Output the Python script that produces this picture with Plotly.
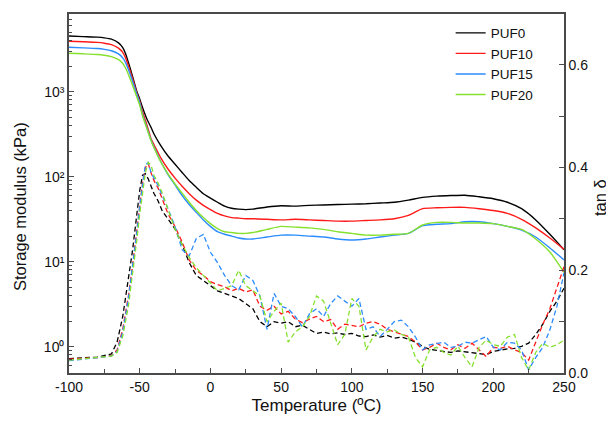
import plotly.graph_objects as go

# temperatura (C) para el modulo de almacenamiento
mod_t = [-100, -90, -80, -75, -70, -65, -62, -60, -57, -55,
         -52, -50, -48, -45, -42, -40, -35, -30, -25, -20,
         -15, -10, -5, 0, 5, 10, 15, 20, 25, 30,
         40, 50, 60, 70, 80, 90, 100, 110, 120, 130,
         140, 150, 160, 170, 180, 190, 200, 210, 220, 230,
         240, 250]

# modulo de almacenamiento (kPa)
puf0_e = [4520, 4450, 4380, 4300, 4150, 3750, 3300, 2800, 1950, 1500,
          1000, 820, 650, 480, 380, 320, 230, 175, 140, 112,
          90, 75, 63, 56, 50, 45, 42.5, 41.5, 41, 41.5,
          44, 45.5, 45, 46, 46.5, 47, 47.5, 48, 49, 50,
          53, 57, 59, 60, 60.5, 58, 55, 50, 42, 31,
          21, 13.8]
puf10_e = [3920, 3870, 3800, 3720, 3580, 3250, 2900, 2500, 1800, 1420,
           960, 770, 580, 410, 280, 240, 165, 123, 96, 77,
           63, 53, 46, 41, 37, 34.5, 33, 32.5, 32, 32,
           31.5, 31, 31.5, 31, 30.5, 30, 30, 30.5, 31, 32,
           35, 42, 43, 43.5, 43.5, 42, 40, 37, 31.5, 25,
           19, 14]
puf15_e = [3330, 3280, 3220, 3150, 3030, 2780, 2500, 2200, 1650, 1320,
           930, 740, 540, 380, 270, 225, 150, 106, 80, 60,
           47, 38, 31, 26, 22.5, 21, 20, 19, 18.5, 18.5,
           19.5, 20.5, 20.5, 20, 19.5, 18.5, 18, 18.5, 19.5, 20.5,
           21.5, 26.5, 27.5, 28, 29.5, 29.5, 28, 26, 23.5, 19.5,
           14.5, 10.5]
puf20_e = [2830, 2790, 2740, 2680, 2580, 2380, 2150, 1900, 1450, 1180,
           860, 690, 520, 370, 265, 220, 148, 108, 82, 64,
           50, 40, 33, 28, 24.5, 22.5, 22, 21.5, 21.5, 22,
           24, 26, 25.5, 25, 24, 22.5, 21.5, 20.5, 20.5, 21,
           21.5, 27, 29, 29, 28.5, 28.5, 28, 26, 24, 18.5,
           13, 7.5]

# temperatura (C) para tan delta
tan_t = [-100, -90, -80, -70, -66, -62, -58, -55, -52, -50,
         -48, -46, -44, -42, -40, -37, -34, -30, -25, -20,
         -15, -10, -5, 0, 5, 10, 15, 20, 25, 30,
         35, 40, 45, 50, 55, 60, 65, 70, 75, 80,
         85, 90, 95, 100, 105, 110, 115, 120, 125, 130,
         135, 140, 145, 150, 155, 160, 165, 170, 175, 180,
         185, 190, 195, 200, 205, 210, 215, 220, 225, 230,
         235, 240, 245, 250]

puf0_tan = [0.028, 0.030, 0.031, 0.037, 0.06, 0.11, 0.18, 0.24, 0.31, 0.355,
            0.385, 0.388, 0.378, 0.362, 0.35, 0.335, 0.315, 0.30, 0.28, 0.25,
            0.215, 0.19, 0.18, 0.17, 0.16, 0.155, 0.15, 0.145, 0.135, 0.125,
            0.10, 0.09, 0.10, 0.097, 0.10, 0.09, 0.093, 0.085, 0.077, 0.08,
            0.076, 0.078, 0.075, 0.077, 0.072, 0.071, 0.074, 0.07, 0.073, 0.068,
            0.07, 0.066, 0.06, 0.052, 0.046, 0.044, 0.042, 0.04, 0.043, 0.041,
            0.039, 0.038, 0.036, 0.042, 0.045, 0.047, 0.048, 0.052, 0.058, 0.075,
            0.095, 0.12, 0.14, 0.165]
puf10_tan = [0.027, 0.029, 0.030, 0.034, 0.045, 0.085, 0.15, 0.21, 0.28, 0.33,
             0.37, 0.40, 0.408, 0.39, 0.375, 0.36, 0.34, 0.31, 0.285, 0.255,
             0.22, 0.20, 0.19, 0.178, 0.172, 0.168, 0.16, 0.165, 0.158, 0.162,
             0.13, 0.122, 0.13, 0.115, 0.12, 0.105, 0.098, 0.105, 0.11, 0.10,
             0.104, 0.085, 0.095, 0.093, 0.09, 0.097, 0.10, 0.095, 0.085, 0.08,
             0.075, 0.071, 0.06, 0.045, 0.05, 0.058, 0.05, 0.045, 0.055, 0.048,
             0.058, 0.045, 0.032, 0.05, 0.048, 0.052, 0.045, 0.04, 0.025, 0.06,
             0.095, 0.125, 0.165, 0.207]
puf15_tan = [0.024, 0.027, 0.029, 0.033, 0.042, 0.08, 0.145, 0.205, 0.275, 0.325,
             0.37, 0.405, 0.41, 0.39, 0.38, 0.365, 0.345, 0.32, 0.285, 0.24,
             0.228, 0.262, 0.27, 0.235, 0.215, 0.19, 0.17, 0.162, 0.19, 0.18,
             0.15, 0.085, 0.155, 0.13, 0.125, 0.11, 0.09, 0.115, 0.125, 0.11,
             0.135, 0.15, 0.14, 0.13, 0.145, 0.085, 0.09, 0.071, 0.085, 0.10,
             0.103, 0.09, 0.07, 0.045, 0.055, 0.058, 0.06, 0.05, 0.052, 0.06,
             0.058, 0.065, 0.071, 0.05, 0.045, 0.06, 0.058, 0.045, 0.006, 0.03,
             0.05, 0.084, 0.13, 0.195]
puf20_tan = [0.025, 0.028, 0.030, 0.033, 0.04, 0.072, 0.13, 0.19, 0.26, 0.31,
             0.355, 0.39, 0.41, 0.405, 0.385, 0.37, 0.35, 0.32, 0.28, 0.25,
             0.225, 0.205, 0.19, 0.175, 0.16, 0.165, 0.17, 0.20, 0.17, 0.16,
             0.15, 0.10, 0.12, 0.136, 0.06, 0.08, 0.09, 0.11, 0.15, 0.14,
             0.097, 0.055, 0.075, 0.145, 0.13, 0.045, 0.07, 0.085, 0.08, 0.084,
             0.075, 0.07, 0.03, 0.012, 0.045, 0.05, 0.04, 0.035, 0.052, 0.03,
             0.012, 0.05, 0.064, 0.055, 0.052, 0.07, 0.075, 0.03, 0.006, 0.04,
             0.058, 0.05, 0.055, 0.064]

muestras = ["PUF0", "PUF10", "PUF15", "PUF20"]
colores = ["#000000", "#ff1a1a", "#2b8cff", "#86e02e"]
modulos = [puf0_e, puf10_e, puf15_e, puf20_e]
tans = [puf0_tan, puf10_tan, puf15_tan, puf20_tan]

# etiquetas de los ejes
x_ticks = [-100, -50, 0, 50, 100, 150, 200, 250]
x_labels = ["-100", "-50", "0", "50", "100", "150", "200", "250"]
e_ticks = [1, 10, 100, 1000]
e_labels = ["10⁰", "10¹", "10²", "10³"]
tan_ticks = [0, 0.2, 0.4, 0.6]
tan_labels = ["0.0", "0.2", "0.4", "0.6"]

fig = go.Figure()

for nombre, col, e in zip(muestras, colores, modulos):
    fig.add_trace(go.Scatter(x=mod_t, y=e, mode="lines", name=nombre,
                             line=dict(color=col, width=1.4, shape="spline", smoothing=0.6)))

for nombre, col, td in zip(muestras, colores, tans):
    fig.add_trace(go.Scatter(x=tan_t, y=td, mode="lines", name=nombre + " tan", yaxis="y2",
                             showlegend=False,
                             line=dict(color=col, width=1.3, dash="5px,3px")))

eje = "#4a4a4a"
fuente = "Liberation Sans, Arial, sans-serif"

minor_log = [m * 10 ** k for k in range(-1, 4) for m in range(2, 10)]

# el body de la pagina tiene 8px de margen, por eso 606x413
fig.update_layout(
    width=606, height=413,
    margin=dict(l=61, r=50, t=6, b=48, autoexpand=False),
    plot_bgcolor="white", paper_bgcolor="white",
    font=dict(family=fuente, size=14, color="#111"),
    showlegend=True,
    legend=dict(x=0.771, y=0.99, xanchor="left", yanchor="top",
                bgcolor="rgba(0,0,0,0)", font=dict(size=13.5), tracegroupgap=0),
    xaxis=dict(range=[-100, 250], tickvals=x_ticks, ticktext=x_labels,
               ticks="inside", ticklen=5, tickcolor=eje, tickwidth=1.2,
               minor=dict(dtick=25, tick0=-100, ticks="inside", ticklen=4, tickcolor=eje),
               showline=True, linecolor=eje, linewidth=1.5, mirror=True,
               showgrid=False, zeroline=False, automargin=False,
               title=dict(text="Temperature (ºC)", font=dict(size=17), standoff=6)),
    yaxis=dict(type="log", range=[-0.31, 3.914],
               tickvals=e_ticks, ticktext=e_labels,
               ticks="inside", ticklen=5, tickcolor=eje, tickwidth=1.2,
               minor=dict(tickvals=minor_log, ticks="inside", ticklen=3, tickcolor=eje),
               showline=True, linecolor=eje, linewidth=1.5,
               showgrid=False, zeroline=False, automargin=False),
    yaxis2=dict(overlaying="y", side="right", range=[0, 0.699],
                tickvals=tan_ticks, ticktext=tan_labels,
                ticks="inside", ticklen=5, tickcolor=eje, tickwidth=1.2,
                minor=dict(tickvals=[0.1, 0.3, 0.5], ticks="inside", ticklen=5, tickcolor=eje),
                showline=True, linecolor=eje, linewidth=1.5,
                showgrid=False, zeroline=False, automargin=False),
    annotations=[
        dict(text="Storage modulus (kPa)", textangle=-90, xref="paper", yref="paper",
             x=-0.099, y=0.465, xanchor="center", yanchor="middle", showarrow=False,
             font=dict(size=16.5)),
        dict(text="tan δ", textangle=-90, xref="paper", yref="paper",
             x=1.0727, y=0.49, xanchor="center", yanchor="middle", showarrow=False,
             font=dict(size=16.5)),
    ],
)

fig.write_html("out.html", config={"displayModeBar": False})
